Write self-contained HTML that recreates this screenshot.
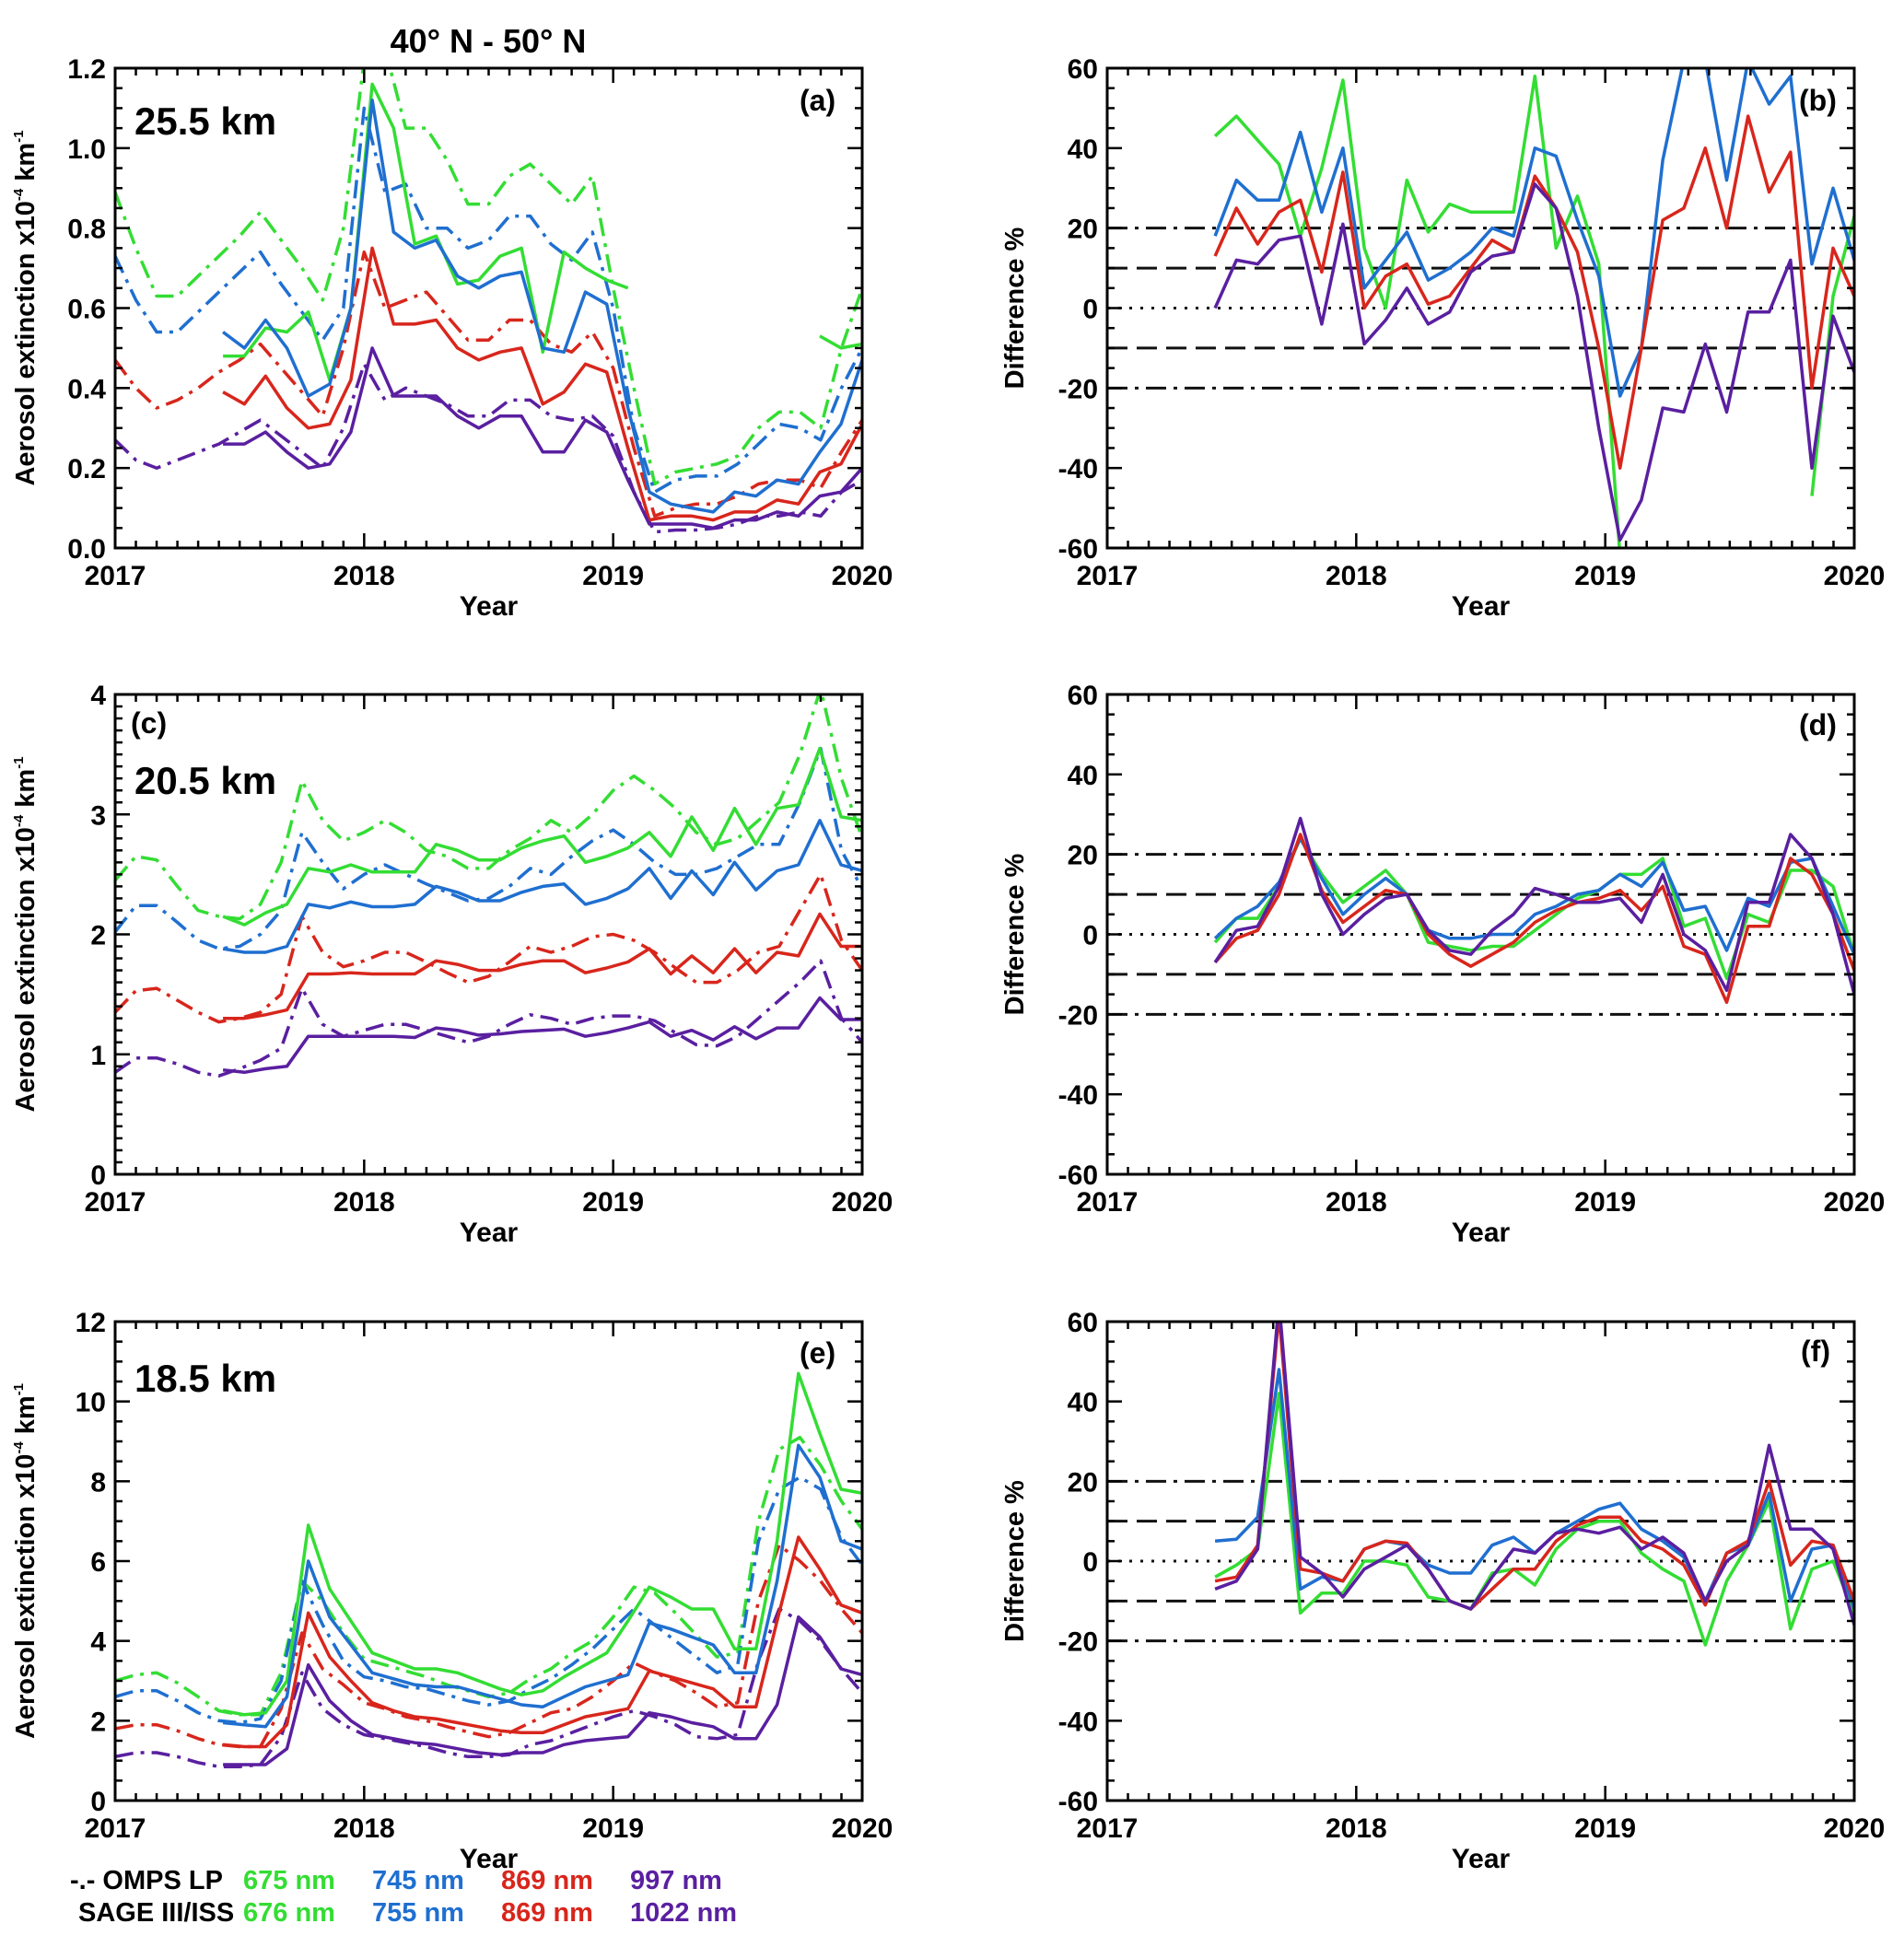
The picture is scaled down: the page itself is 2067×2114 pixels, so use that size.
<!DOCTYPE html>
<html><head><meta charset="utf-8">
<style>
html,body{margin:0;padding:0;background:#fff;}
svg{display:block;font-family:"Liberation Sans",Arial,sans-serif;font-weight:bold;}
</style></head>
<body>
<svg id="fig" width="2067" height="2114" viewBox="0 0 2067 2114" xmlns="http://www.w3.org/2000/svg">
<text x="530" y="57" font-size="36" text-anchor="middle">40° N - 50° N</text>
<g font-size="29">
<text x="76" y="2051">-.- OMPS LP</text>
<text x="264" y="2051" fill="#33dd33">675 nm</text>
<text x="404" y="2051" fill="#1f6fd0">745 nm</text>
<text x="544" y="2051" fill="#d8261c">869 nm</text>
<text x="684" y="2051" fill="#5a1fa0">997 nm</text>
<text x="85" y="2086">SAGE III/ISS</text>
<text x="264" y="2086" fill="#33dd33">676 nm</text>
<text x="404" y="2086" fill="#1f6fd0">755 nm</text>
<text x="544" y="2086" fill="#d8261c">869 nm</text>
<text x="684" y="2086" fill="#5a1fa0">1022 nm</text>
</g>
</svg>
<script>
// time axes (months since Jan 2017)
const ompsMonths = [0,1,2,3,4,5,6,7,8,9,10,11,12,13,14,15,16,17,18,19,20,21,22,23,24,25,26,27,28,29,30,31,32,33,34,35,36];
const sageMonths = [5.2,6.23,7.25,8.28,9.31,10.34,11.36,12.39,13.42,14.44,15.47,16.5,17.52,18.55,19.58,20.61,21.63,22.66,23.69,24.71,25.74,26.77,27.79,28.82,29.85,30.88,31.9,32.93,33.96,34.98,36.0];
const yearTicks = [2017,2018,2019,2020];

// panel (a) 25.5 km
const aOmpsGreen = [0.89,0.75,0.63,0.63,0.68,0.73,0.78,0.84,0.77,0.70,0.62,0.80,1.22,1.25,1.05,1.05,0.97,0.86,0.86,0.93,0.96,0.91,0.86,0.93,0.65,0.4,0.16,0.19,0.2,0.21,0.23,0.3,0.34,0.34,0.3,0.5,0.65];
const aOmpsBlue = [0.73,0.62,0.54,0.54,0.59,0.64,0.69,0.74,0.66,0.59,0.52,0.6,1.1,0.89,0.91,0.8,0.8,0.75,0.77,0.83,0.83,0.76,0.72,0.79,0.6,0.3,0.14,0.17,0.18,0.18,0.21,0.26,0.31,0.30,0.27,0.4,0.5];
const aOmpsRed = [0.47,0.4,0.35,0.37,0.4,0.44,0.47,0.51,0.45,0.39,0.33,0.5,0.74,0.6,0.62,0.64,0.58,0.52,0.52,0.57,0.57,0.51,0.49,0.54,0.45,0.25,0.08,0.1,0.11,0.11,0.13,0.16,0.17,0.17,0.15,0.24,0.32];
const aOmpsPurple = [0.27,0.22,0.2,0.22,0.24,0.26,0.29,0.32,0.28,0.24,0.2,0.3,0.46,0.37,0.40,0.38,0.36,0.33,0.33,0.37,0.37,0.33,0.32,0.33,0.28,0.14,0.04,0.045,0.045,0.05,0.06,0.08,0.08,0.09,0.08,0.14,0.17];
const aSageGreen = [0.48,0.48,0.55,0.54,0.59,0.42,0.6,1.16,1.05,0.76,0.78,0.66,0.67,0.73,0.75,0.49,0.74,0.7,0.67,0.65,null,null,null,null,null,null,null,null,0.53,0.5,0.51];
const aSageBlue = [0.54,0.5,0.57,0.5,0.38,0.41,0.6,1.12,0.79,0.75,0.77,0.68,0.65,0.68,0.69,0.5,0.49,0.64,0.61,0.35,0.14,0.11,0.1,0.09,0.14,0.13,0.17,0.16,0.24,0.31,0.47];
const aSageRed = [0.39,0.36,0.43,0.35,0.3,0.31,0.42,0.75,0.56,0.56,0.57,0.5,0.47,0.49,0.5,0.36,0.39,0.46,0.44,0.25,0.07,0.08,0.08,0.07,0.09,0.09,0.12,0.11,0.19,0.21,0.31];
const aSagePurple = [0.26,0.26,0.29,0.24,0.2,0.21,0.29,0.5,0.38,0.38,0.38,0.33,0.3,0.33,0.33,0.24,0.24,0.32,0.29,0.17,0.06,0.06,0.06,0.05,0.07,0.07,0.09,0.08,0.13,0.14,0.2];
const aTicks = [0.0,0.2,0.4,0.6,0.8,1.0,1.2];
const aTickLabels = ["0.0","0.2","0.4","0.6","0.8","1.0","1.2"];

// panel (b) difference
const bGreen = [43,48,42,36,18,35,57,15,0,32,19,26,24,24,24,58,15,28,11,-62,null,null,null,null,null,null,null,null,-47,3,23];
const bBlue = [18,32,27,27,44,24,40,5,12,19,7,10,14,20,18,40,38,22,8,-22,-10,37,62,62,32,62,51,58,11,30,12];
const bRed = [13,25,16,24,27,9,34,0,8,11,1,3,10,17,14,33,25,14,-10,-40,-10,22,25,40,20,48,29,39,-20,15,3];
const bPurple = [0,12,11,17,18,-4,21,-9,-3,5,-4,-1,9,13,14,31,25,3,-30,-58,-48,-25,-26,-9,-26,-1,-1,12,-40,-2,-16];

// panel (c) 20.5 km
const cOmpsGreen = [2.45,2.65,2.62,2.4,2.2,2.15,2.13,2.25,2.6,3.28,2.95,2.78,2.85,2.95,2.85,2.7,2.65,2.55,2.55,2.7,2.8,2.95,2.85,3.0,3.2,3.32,3.2,3.05,2.85,2.75,2.8,2.95,3.1,3.5,4.05,3.3,2.8];
const cOmpsBlue = [2.02,2.24,2.24,2.1,1.95,1.88,1.9,2.0,2.2,2.85,2.6,2.38,2.5,2.58,2.5,2.42,2.35,2.28,2.3,2.4,2.55,2.5,2.65,2.78,2.87,2.75,2.6,2.5,2.5,2.55,2.65,2.75,2.75,3.1,3.55,2.7,2.38];
const cOmpsRed = [1.35,1.53,1.55,1.45,1.35,1.27,1.3,1.35,1.5,2.15,1.85,1.73,1.78,1.85,1.85,1.77,1.68,1.6,1.65,1.77,1.9,1.85,1.9,1.98,2.0,1.95,1.85,1.72,1.6,1.6,1.7,1.85,1.9,2.2,2.5,1.95,1.7];
const cOmpsPurple = [0.85,0.97,0.97,0.92,0.85,0.82,0.88,0.95,1.05,1.55,1.25,1.15,1.2,1.25,1.25,1.2,1.15,1.1,1.15,1.25,1.33,1.3,1.25,1.3,1.32,1.32,1.28,1.18,1.08,1.07,1.15,1.3,1.45,1.6,1.78,1.3,1.1];
const cSageGreen = [2.15,2.08,2.18,2.25,2.55,2.52,2.58,2.52,2.52,2.52,2.75,2.7,2.62,2.62,2.72,2.78,2.82,2.6,2.65,2.72,2.85,2.65,2.98,2.7,3.05,2.75,3.05,3.08,3.55,2.98,2.95];
const cSageBlue = [1.88,1.85,1.85,1.9,2.25,2.22,2.27,2.23,2.23,2.25,2.4,2.35,2.28,2.28,2.35,2.4,2.42,2.25,2.3,2.38,2.55,2.3,2.53,2.33,2.6,2.37,2.53,2.58,2.95,2.58,2.53];
const cSageRed = [1.3,1.3,1.33,1.37,1.67,1.67,1.68,1.67,1.67,1.67,1.78,1.75,1.7,1.7,1.75,1.78,1.78,1.68,1.72,1.77,1.88,1.67,1.82,1.68,1.88,1.68,1.85,1.82,2.17,1.9,1.9];
const cSagePurple = [0.87,0.85,0.88,0.9,1.15,1.15,1.15,1.15,1.15,1.14,1.22,1.2,1.16,1.17,1.19,1.2,1.21,1.15,1.18,1.22,1.27,1.15,1.2,1.12,1.23,1.13,1.22,1.22,1.47,1.29,1.29];
const cTicks = [0,1,2,3,4];
const cTickLabels = ["0","1","2","3","4"];

// panel (d) difference
const dGreen = [-2,4,4,12,24,15,8,12,16,10,-2,-3,-4,-3,-3,1,5,9,11,15,15,19,2,4,-11,5,3,16,16,12,-5];
const dBlue = [-1,4,7,13,24,14,5,10,14,10,1,-1,-1,0,0,5,7,10,11,15,12,18,6,7,-4,9,7,18,19,7,-5];
const dRed = [-7,-1,1,10,25,11,3,7,11,10,0,-5,-8,-5,-2,3,6,8,9,11,6,12,-3,-5,-17,2,2,19,15,5,-9];
const dPurple = [-7,1,2,12,29,10,0,5,9,10,1,-4,-5,1,5,11.5,10,8,8,9,3,15,0,-4,-14,8,8,25,19,5,-15];

// panel (e) 18.5 km
const eOmpsGreen = [3.0,3.15,3.2,2.95,2.6,2.25,2.15,2.15,3.2,5.5,5.0,4.2,3.55,3.4,3.25,3.1,2.9,2.75,2.6,2.7,3.05,3.3,3.7,4.0,4.6,5.35,5.2,4.7,4.15,3.6,3.7,7.0,8.8,9.1,8.4,7.5,6.8];
const eOmpsBlue = [2.6,2.75,2.75,2.5,2.2,2.0,1.95,2.05,3.0,5.5,4.4,3.5,3.1,3.0,2.85,2.8,2.65,2.5,2.4,2.5,2.8,3.05,3.4,3.8,4.3,4.8,4.4,4.0,3.6,3.2,3.4,6.5,7.8,8.1,7.8,6.6,5.9];
const eOmpsRed = [1.8,1.9,1.9,1.75,1.55,1.4,1.35,1.35,2.3,4.2,3.3,2.9,2.45,2.3,2.1,2.0,1.85,1.72,1.6,1.7,1.95,2.2,2.3,2.6,3.0,3.45,3.2,3.0,2.7,2.35,2.45,5.0,6.4,6.0,5.5,4.8,4.2];
const eOmpsPurple = [1.1,1.2,1.2,1.1,0.95,0.85,0.85,0.9,1.6,3.2,2.3,1.9,1.65,1.55,1.45,1.35,1.2,1.1,1.1,1.15,1.4,1.5,1.7,1.9,2.1,2.25,2.1,1.9,1.6,1.55,1.65,3.5,4.8,4.5,4.0,3.3,2.7];
const eSageGreen = [2.25,2.15,2.2,3.0,6.9,5.3,4.5,3.7,3.5,3.3,3.3,3.2,3.0,2.8,2.65,2.75,3.1,3.4,3.7,4.5,5.35,5.1,4.8,4.8,3.8,3.8,6.5,10.7,9.2,7.8,7.7];
const eSageBlue = [1.95,1.9,1.85,2.6,6.0,4.6,3.9,3.2,3.05,2.9,2.85,2.85,2.7,2.55,2.4,2.35,2.6,2.85,3.0,3.15,4.45,4.3,4.1,3.9,3.2,3.2,5.5,8.9,8.1,6.5,6.3];
const eSageRed = [1.4,1.35,1.35,1.9,4.7,3.6,3.0,2.45,2.25,2.1,2.05,1.95,1.85,1.75,1.7,1.7,1.9,2.1,2.2,2.3,3.25,3.1,2.95,2.8,2.35,2.35,4.5,6.6,5.8,4.9,4.7];
const eSagePurple = [0.9,0.9,0.9,1.3,3.4,2.5,2.0,1.65,1.55,1.45,1.4,1.3,1.2,1.15,1.2,1.2,1.4,1.5,1.55,1.6,2.2,2.1,1.95,1.85,1.55,1.55,2.4,4.6,4.1,3.3,3.15];
const eTicks = [0,2,4,6,8,10,12];
const eTickLabels = ["0","2","4","6","8","10","12"];

// panel (f) difference
const fGreen = [-4,-1,3,42,-13,-8,-8,0,0,-1,-9,-10,-12,-3,-2,-6,3,8,10,10,2,-2,-5,-21,-5,4,15,-17,-2,0,-13];
const fBlue = [5,5.5,11,48,-7,-4,-5,3,5,4,-1,-3,-3,4,6,2,7,10,13,14.5,8,5,1,-10,2,4,17,-10,3,4,-12];
const fRed = [-5,-4,4,62,-2,-3,-5,3,5,4.5,-2,-10,-12,-7,-2,-2,5,9,11,11,5,3,-1,-11,2,5,20,-1,5,4,-10];
const fPurple = [-7,-5,3,65,1,-3,-9,-2,1,4,-2,-10,-12,-4,3,2,7,8,7,8.5,3,6,2,-10,0,4,29,8,8,3,-16];

const diffTicks = [-60,-40,-20,0,20,40,60];
const diffTickLabels = ["-60","-40","-20","0","20","40","60"];

const COL = {green:"#33dd33", blue:"#1f6fd0", red:"#d8261c", purple:"#5a1fa0"};
const NS = "http://www.w3.org/2000/svg";
const svg = document.getElementById("fig");
let clipId = 0;

function mk(tag, attrs, parent){
  const e = document.createElementNS(NS, tag);
  for (const k in attrs) e.setAttribute(k, attrs[k]);
  (parent||svg).appendChild(e);
  return e;
}

function makePanel(name, x0, y0, x1, y1, ymin, ymax, ticks, tickLabels, minorStep, ytitle, titleX){
  const g = mk("g", {});
  
  
  const xs = t => x0 + (t/36)*(x1-x0);
  const ys = v => y1 - (v-ymin)/(ymax-ymin)*(y1-y0);
  const id = "clip"+(clipId++);
  const cp = mk("clipPath", {id:id}, g);
  mk("rect", {x:x0, y:y0, width:x1-x0, height:y1-y0}, cp);
  const plot = mk("g", {"clip-path":"url(#"+id+")"}, g);
  
  
  const fr = mk("rect", {x:x0, y:y0, width:x1-x0, height:y1-y0, fill:"none", stroke:"#000", "stroke-width":3}, g);
  
  
  for (let m=0; m<=36; m++){
    const L = (m%12===0)?16:8;
    const X = xs(m);
    mk("line", {x1:X, y1:y1, x2:X, y2:y1-L, stroke:"#000", "stroke-width":2.5}, g);
    mk("line", {x1:X, y1:y0, x2:X, y2:y0+L, stroke:"#000", "stroke-width":2.5}, g);
  }
  yearTicks.forEach((yr,i) => {
    const t = mk("text", {x:xs(i*12), y:y1+40, "font-size":30, "text-anchor":"middle"}, g);
    t.textContent = yr;
    
    
  });
  const xt = mk("text", {x:(x0+x1)/2, y:y1+73, "font-size":30, "text-anchor":"middle"}, g);
  xt.textContent = "Year";
  
  
  for (let v=ymin; v<=ymax+1e-9; v+=minorStep){
    const Y = ys(v);
    const major = ticks.some(tk => Math.abs(tk-v)<1e-6);
    const L = major?16:8;
    mk("line", {x1:x0, y1:Y, x2:x0+L, y2:Y, stroke:"#000", "stroke-width":2.5}, g);
    mk("line", {x1:x1, y1:Y, x2:x1-L, y2:Y, stroke:"#000", "stroke-width":2.5}, g);
  }
  ticks.forEach((v,i) => {
    const t = mk("text", {x:x0-10, y:ys(v)+11, "font-size":30, "text-anchor":"end"}, g);
    t.textContent = tickLabels[i];
    
    
  });
  const yc = (y0+y1)/2;
  const yt = mk("text", {x:titleX, y:yc, "font-size":29, "text-anchor":"middle", transform:"rotate(-90 "+titleX+" "+yc+")"}, g);
  yt.innerHTML = ytitle;
  
  
  return {g, plot, xs, ys, x0, x1, y0, y1};
}

function series(P, times, vals, color, dashed, name){
  let d = "", pen = false;
  vals.forEach((v,i) => {
    if (v===null){ pen=false; return; }
    d += (pen?"L":"M") + P.xs(times[i]).toFixed(1) + " " + P.ys(v).toFixed(1) + " ";
    pen = true;
  });
  const attrs = {d:d, fill:"none", stroke:color, "stroke-width":3.5, "stroke-linejoin":"round"};
  if (dashed) attrs["stroke-dasharray"] = "20 8 4 8";
  const p = mk("path", attrs, P.plot);
  
  
}

function refLines(P){
  const defs = [[20,"22 8 4 8"],[10,"22 10"],[0,"3 9"],[-10,"22 10"],[-20,"22 8 4 8"]];
  defs.forEach(([v,da]) => {
    const l = mk("line", {x1:P.x0, x2:P.x1, y1:P.ys(v), y2:P.ys(v), stroke:"#111", "stroke-width":3, "stroke-dasharray":da}, P.plot);
    
    
  });
}

function label(P, x, y, txt, size, name){
  const t = mk("text", {x:x, y:y, "font-size":size}, P.g);
  t.textContent = txt;
  
  
}

const LX0=125, LX1=936, RX0=1202, RX1=2013;
const rows = [[74,595],[754,1275],[1435,1955]];
const extTitle = 'Aerosol extinction  x10<tspan dy="-12" font-size="15">-4</tspan><tspan dy="12"> km</tspan><tspan dy="-12" font-size="15">-1</tspan>';

const PA = makePanel("panel-a", LX0, rows[0][0], LX1, rows[0][1], 0, 1.2, aTicks, aTickLabels, 0.05, extTitle, 37);
series(PA, ompsMonths, aOmpsGreen, COL.green, true, "omps-675-line");
series(PA, ompsMonths, aOmpsBlue, COL.blue, true, "omps-745-line");
series(PA, ompsMonths, aOmpsRed, COL.red, true, "omps-869-line");
series(PA, ompsMonths, aOmpsPurple, COL.purple, true, "omps-997-line");
series(PA, sageMonths, aSageGreen, COL.green, false, "sage-676-line");
series(PA, sageMonths, aSageBlue, COL.blue, false, "sage-755-line");
series(PA, sageMonths, aSageRed, COL.red, false, "sage-869-line");
series(PA, sageMonths, aSagePurple, COL.purple, false, "sage-1022-line");
label(PA, 146, 146, "25.5 km", 42, "altitude-label");
label(PA, 868, 120, "(a)", 32, "panel-label");

const PB = makePanel("panel-b", RX0, rows[0][0], RX1, rows[0][1], -60, 60, diffTicks, diffTickLabels, 5, "Difference %", 1111);
refLines(PB);
series(PB, sageMonths, bGreen, COL.green, false, "diff-green-line");
series(PB, sageMonths, bBlue, COL.blue, false, "diff-blue-line");
series(PB, sageMonths, bRed, COL.red, false, "diff-red-line");
series(PB, sageMonths, bPurple, COL.purple, false, "diff-purple-line");
label(PB, 1953, 120, "(b)", 32, "panel-label");

const PC = makePanel("panel-c", LX0, rows[1][0], LX1, rows[1][1], 0, 4, cTicks, cTickLabels, 0.1, extTitle, 37);
series(PC, ompsMonths, cOmpsGreen, COL.green, true, "omps-675-line");
series(PC, ompsMonths, cOmpsBlue, COL.blue, true, "omps-745-line");
series(PC, ompsMonths, cOmpsRed, COL.red, true, "omps-869-line");
series(PC, ompsMonths, cOmpsPurple, COL.purple, true, "omps-997-line");
series(PC, sageMonths, cSageGreen, COL.green, false, "sage-676-line");
series(PC, sageMonths, cSageBlue, COL.blue, false, "sage-755-line");
series(PC, sageMonths, cSageRed, COL.red, false, "sage-869-line");
series(PC, sageMonths, cSagePurple, COL.purple, false, "sage-1022-line");
label(PC, 142, 796, "(c)", 32, "panel-label");
label(PC, 146, 862, "20.5 km", 42, "altitude-label");

const PD = makePanel("panel-d", RX0, rows[1][0], RX1, rows[1][1], -60, 60, diffTicks, diffTickLabels, 5, "Difference %", 1111);
refLines(PD);
series(PD, sageMonths, dGreen, COL.green, false, "diff-green-line");
series(PD, sageMonths, dBlue, COL.blue, false, "diff-blue-line");
series(PD, sageMonths, dRed, COL.red, false, "diff-red-line");
series(PD, sageMonths, dPurple, COL.purple, false, "diff-purple-line");
label(PD, 1953, 798, "(d)", 32, "panel-label");

const PE = makePanel("panel-e", LX0, rows[2][0], LX1, rows[2][1], 0, 12, eTicks, eTickLabels, 0.5, extTitle, 37);
series(PE, ompsMonths, eOmpsGreen, COL.green, true, "omps-675-line");
series(PE, ompsMonths, eOmpsBlue, COL.blue, true, "omps-745-line");
series(PE, ompsMonths, eOmpsRed, COL.red, true, "omps-869-line");
series(PE, ompsMonths, eOmpsPurple, COL.purple, true, "omps-997-line");
series(PE, sageMonths, eSageGreen, COL.green, false, "sage-676-line");
series(PE, sageMonths, eSageBlue, COL.blue, false, "sage-755-line");
series(PE, sageMonths, eSageRed, COL.red, false, "sage-869-line");
series(PE, sageMonths, eSagePurple, COL.purple, false, "sage-1022-line");
label(PE, 868, 1480, "(e)", 32, "panel-label");
label(PE, 146, 1511, "18.5 km", 42, "altitude-label");

const PF = makePanel("panel-f", RX0, rows[2][0], RX1, rows[2][1], -60, 60, diffTicks, diffTickLabels, 5, "Difference %", 1111);
refLines(PF);
series(PF, sageMonths, fGreen, COL.green, false, "diff-green-line");
series(PF, sageMonths, fBlue, COL.blue, false, "diff-blue-line");
series(PF, sageMonths, fRed, COL.red, false, "diff-red-line");
series(PF, sageMonths, fPurple, COL.purple, false, "diff-purple-line");
label(PF, 1955, 1478, "(f)", 32, "panel-label");
</script>
</body></html>
